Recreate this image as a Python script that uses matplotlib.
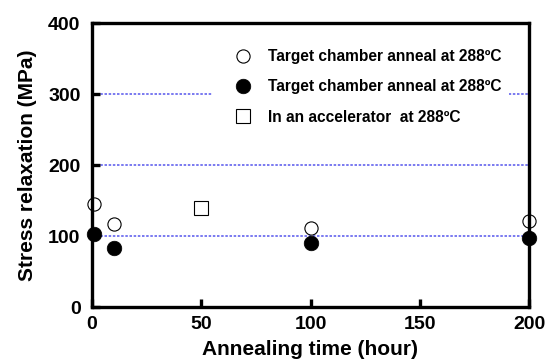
import matplotlib
matplotlib.use("Agg")
import matplotlib.pyplot as plt

# Data
open_x = [1, 10, 100, 200]
open_y = [146, 117, 111, 122]
filled_x = [1, 10, 100, 200]
filled_y = [103, 84, 91, 97]
acc_x = [50]
acc_y = [140]

label_open = "Target chamber anneal at 288ºC"
label_filled = "Target chamber anneal at 288ºC"
label_acc = "In an accelerator  at 288ºC"

x_ticks = [0, 50, 100, 150, 200]
y_ticks = [0, 100, 200, 300, 400]

plt.rcParams['font.family'] = ['Liberation Sans', 'DejaVu Sans']
plt.rcParams['font.weight'] = 'bold'

fig = plt.figure(figsize=(5.54, 3.64), dpi=100)
ax = fig.add_axes([91.7/554, 1-307.3/364, (529.3-91.7)/554, (307.3-23.3)/364])

ax.plot(open_x, open_y, linestyle='none', marker='o', ms=9.5, mfc='white',
        mec='black', mew=0.8, label=label_open, clip_on=False, zorder=3)
ax.plot(filled_x, filled_y, linestyle='none', marker='o', ms=10.5, mfc='black',
        mec='black', mew=0.5, label=label_filled, clip_on=False, zorder=3)
ax.plot(acc_x, acc_y, linestyle='none', marker='s', ms=10, mfc='white',
        mec='black', mew=0.8, label=label_acc, clip_on=False, zorder=3)

ax.set_xlim(0, 200)
ax.set_ylim(0, 400)
ax.set_xticks(x_ticks)
ax.set_yticks(y_ticks)
ax.set_xticklabels([str(v) for v in x_ticks], fontsize=14, fontweight='bold')
ax.set_yticklabels([str(v) for v in y_ticks], fontsize=14, fontweight='bold')

ax.tick_params(axis='both', direction='in', length=6, width=2.4, color='black')
ax.tick_params(axis='y', pad=8)
ax.tick_params(axis='x', pad=6)

for s in ax.spines.values():
    s.set_linewidth(2.4)
    s.set_zorder(4)

ax.yaxis.grid(True, color='#6464ee', linewidth=1.2, linestyle=(0, (1.5, 1.0)))
ax.xaxis.grid(False)
ax.set_axisbelow(True)

ax.set_xlabel("Annealing time (hour)", fontsize=15, fontweight='bold', labelpad=5)
ax.set_ylabel("Stress relaxation (MPa)", fontsize=15, fontweight='bold', labelpad=8)

leg = ax.legend(loc='upper left', bbox_to_anchor=((212-91.7)/437.6, 0.937),
                frameon=True, framealpha=1, edgecolor='none', facecolor='white',
                fancybox=False, borderpad=0.5, handlelength=3.0, handletextpad=0.1,
                labelspacing=0.99, borderaxespad=0,
                prop={'family': 'Liberation Sans', 'weight': 'bold', 'size': 11.2})
leg.set_zorder(2)

fig.savefig("out.png", dpi=100)
